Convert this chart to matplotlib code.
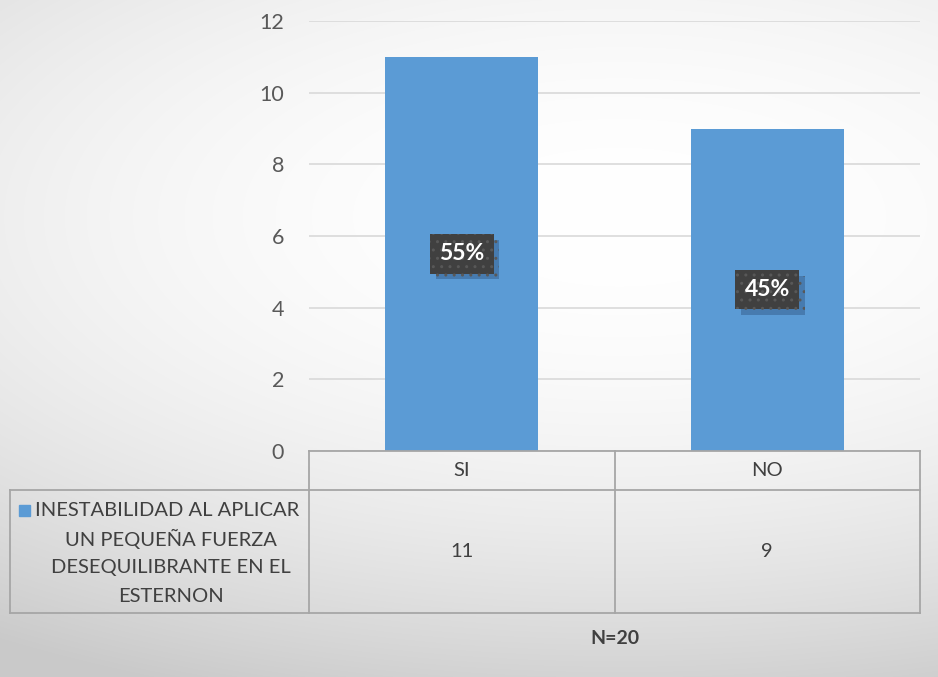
import numpy as np
import matplotlib
matplotlib.use("Agg")
import matplotlib.pyplot as plt
from matplotlib.lines import Line2D
from matplotlib.patches import Rectangle
import matplotlib.patheffects as pe

categories = ["SI", "NO"]
counts = [11, 9]
percent_labels = ["55%", "45%"]
series_name = ["INESTABILIDAD AL APLICAR", "UN PEQUEÑA FUERZA", "DESEQUILIBRANTE EN EL", "ESTERNON"]
y_ticks = [0, 2, 4, 6, 8, 10, 12]
footer = "N=20"

plt.rcParams["font.family"] = ["Lato", "DejaVu Sans"]

W, H = 938, 677
fig = plt.figure(figsize=(W / 100, H / 100), dpi=100)

# radial gradient background
bg = fig.add_axes([0, 0, 1, 1], zorder=-10)
yy, xx = np.mgrid[0:H, 0:W]
cx, cy = 0.66 * W, 0.32 * H
r = np.sqrt(((xx - cx) / W) ** 2 + (1.6 * (yy - cy) / H) ** 2)
t = np.clip(r / 1.2, 0, 1)
shade = 1.0 - 0.21 * t ** 2
bg.imshow(np.dstack([shade] * 3), extent=[0, W, H, 0], aspect="auto")
bg.set_xlim(0, W)
bg.set_ylim(H, 0)
bg.axis("off")

def fx(px):
    return px / W

def fy(py):
    return 1 - py / H

x0, x1 = 309, 920
ytop, ybot = 21, 451
ax = fig.add_axes([fx(x0), fy(ybot), fx(x1) - fx(x0), fy(ytop) - fy(ybot)])
ax.patch.set_alpha(0)

xpos = np.arange(len(categories))
ax.bar(xpos, counts, width=0.5, color="#5B9BD5", zorder=3)
ax.set_xlim(-0.5, len(categories) - 0.5)
ax.set_ylim(0, 12)
ax.set_yticks(y_ticks)
ax.tick_params(axis="y", length=0, pad=18, labelsize=15.5, labelcolor="#595959")
ax.set_xticks([])
for s in ax.spines.values():
    s.set_visible(False)
ax.yaxis.grid(True, color="#d9d9d9", linewidth=1.2, zorder=0)
ax.set_axisbelow(True)

# data labels at the middle of each bar
for xi, v, lab in zip(xpos, counts, percent_labels):
    t_lab = ax.text(xi, v / 2, lab, ha="center", va="center", fontsize=16.5,
                    fontweight="bold", color="white", zorder=5,
                    bbox=dict(boxstyle="square,pad=0.4", fc="#404040", ec="#585858",
                              lw=0, hatch=".."))
    t_lab.get_bbox_patch().set_path_effects([
        pe.SimplePatchShadow(offset=(4, -4), shadow_rgbFace=(0.1, 0.2, 0.35), alpha=0.3),
        pe.Normal(),
    ])

# data table
lc = "#a6a6a6"
lw = 1.3
ymid, ylow = 490, 613
xm = (x0 + x1) / 2
xl = 10

def hline(xa, xb, py, color=lc):
    fig.add_artist(Line2D([fx(xa), fx(xb)], [fy(py), fy(py)], color=color, lw=lw))

def vline(px, ya, yb):
    fig.add_artist(Line2D([fx(px), fx(px)], [fy(ya), fy(yb)], color=lc, lw=lw))

hline(x0, x1, ybot)
hline(xl, x1, ymid)
hline(xl, x1, ylow)
vline(x0, ybot, ylow)
vline(xm, ybot, ylow)
vline(x1, ybot, ylow)
vline(xl, ymid, ylow)

cell_centers = [x0 + (x1 - x0) * (i + 0.5) / len(categories) for i in range(len(categories))]
for cxp, cat, v in zip(cell_centers, categories, counts):
    fig.text(fx(cxp), fy((ybot + ymid) / 2), cat, ha="center", va="center",
             fontsize=14.5, color="#404040")
    fig.text(fx(cxp), fy((ymid + ylow) / 2), str(v), ha="center", va="center",
             fontsize=14.5, color="#404040")

# series legend cell
line_y = [510, 539, 568, 597]
fig.add_artist(Rectangle((fx(19), fy(516)), fx(11), fy(505) - fy(516), color="#5B9BD5"))
fig.text(fx(35), fy(line_y[0]), series_name[0], ha="left", va="center",
         fontsize=14.5, color="#404040")
for py, txt in zip(line_y[1:], series_name[1:]):
    fig.text(fx(171), fy(py), txt, ha="center", va="center", fontsize=14.5, color="#404040")

fig.text(fx(xm), fy(638), footer, ha="center", va="center", fontsize=14,
         fontweight="bold", color="#404040")

fig.savefig("out.png", dpi=100)
